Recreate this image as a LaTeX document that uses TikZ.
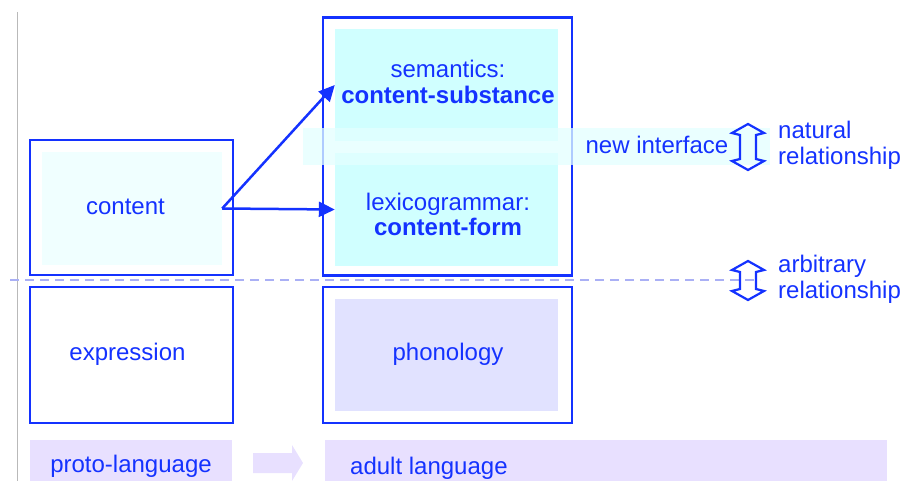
\documentclass[tikz,border=0pt]{standalone}
\usepackage{fontspec}
\setmainfont{Liberation Sans}
\usetikzlibrary{arrows.meta}

\definecolor{ink}{RGB}{20,50,255}
\definecolor{semfill}{RGB}{208,255,255}
\definecolor{contfill}{RGB}{240,255,255}
\definecolor{phonfill}{RGB}{225,226,255}
\definecolor{bandfill}{RGB}{232,224,255}
\definecolor{dashcol}{RGB}{170,176,245}

\tikzset{
  outerbox/.style={draw=ink, line width=2.5pt, fill=white, inner sep=0pt},
  innerfill/.style={inner sep=0pt, draw=none},
  lbl/.style={text=ink, inner sep=0pt, anchor=base},
  link/.style={draw=ink, line width=2.5pt, -{Triangle[length=16pt,width=15pt]}},
}

\begin{document}
\begin{tikzpicture}[x=1pt,y=-1pt,every node/.style={font=\fontsize{24}{26}\selectfont}]
\useasboundingbox (0,0) rectangle (903,481);

%ligne verticale grise
\draw[gray!55, line width=1pt] (17,12) -- (17,481);

%%%%%%%%%%%%%%%%%%%%%%%%
%les boites du haut (content)
%%%%%%%%%%%%%%%%%%%%%%%%
\node[outerbox, minimum width=203, minimum height=135] (contbox) at (131.5,207.5) {};
\node[innerfill, fill=contfill, minimum width=180, minimum height=113] (cont) at (132,208.5) {};

\node[outerbox, minimum width=249, minimum height=258] (adulttop) at (447.5,146.5) {};
\node[innerfill, fill=semfill, minimum width=223, minimum height=112] (sem) at (446.5,85) {};
\node[innerfill, fill=semfill, minimum width=223, minimum height=113] (lex) at (446.5,209.5) {};

%la bande «new interface» (transparente)
\fill[semfill!60, opacity=0.75] (303,128) rectangle (770,165);

%%%%%%%%%%%%%%%%%%%%%%%%
%les boites du bas (expression)
%%%%%%%%%%%%%%%%%%%%%%%%
\node[outerbox, minimum width=203, minimum height=136] (exprbox) at (131.5,355) {};
\node[outerbox, minimum width=249, minimum height=136] (phonbox) at (447.5,355) {};
\node[innerfill, fill=phonfill, minimum width=223, minimum height=112] (phon) at (446.5,355) {};

%ligne pointillée
\draw[dashcol, line width=1.5pt, dash pattern=on 9pt off 6pt] (10,280) -- (760,280);

%les flèches
\draw[link] (cont.east) -- (sem.west);
\draw[link] (cont.east) -- (lex.west);

%doubles flèches
\foreach \cy/\h in {147/23, 280.5/19.5}{
  \draw[ink, line width=2.2pt, line join=miter]
    (748,\cy-\h) -- ++(16,9) -- ++(-8,2) -- (756,\cy+\h-11) -- ++(8,2)
    -- (748,\cy+\h) -- ++(-16,-9) -- ++(8,-2) -- (740,\cy-\h+11) -- ++(-8,-2) -- cycle;
}

%textes
\node[lbl] (contlbl) at (125.5,215) {content};
\node[lbl] (semlbl) at (448,78) {semantics:};
\node[lbl] (semsub) at (448,104) {\textbf{content-substance}};
\node[lbl] (lexlbl) at (448,211) {lexicogrammar:};
\node[lbl] (lexform) at (448,236) {\textbf{content-form}};
\node[lbl] (iface) at (657,154) {new interface};
\node[lbl, anchor=base west] (natlbl) at (778,139) {natural};
\node[lbl, anchor=base west] (natrel) at (778,165) {relationship};
\node[lbl, anchor=base west] (arblbl) at (778,273) {arbitrary};
\node[lbl, anchor=base west] (arbrel) at (778,299) {relationship};
\node[lbl] (exprlbl) at (127.5,360) {expression};
\node[lbl] (phonlbl) at (448,360) {phonology};

%%%%%%%%%%%%%%%%%%%%%%%%
%bandes du bas
%%%%%%%%%%%%%%%%%%%%%%%%
\fill[bandfill] (30,440) rectangle (232,481);
\fill[bandfill] (325,440) rectangle (887,481);
\fill[bandfill] (253,453) -- (292,453) -- (292,445) -- (303,463) -- (292,481) -- (292,473) -- (253,473) -- cycle;
\node[lbl] (proto) at (131,472) {proto-language};
\node[lbl, anchor=base west] (adult) at (350,474) {adult language};

\end{tikzpicture}
\end{document}
